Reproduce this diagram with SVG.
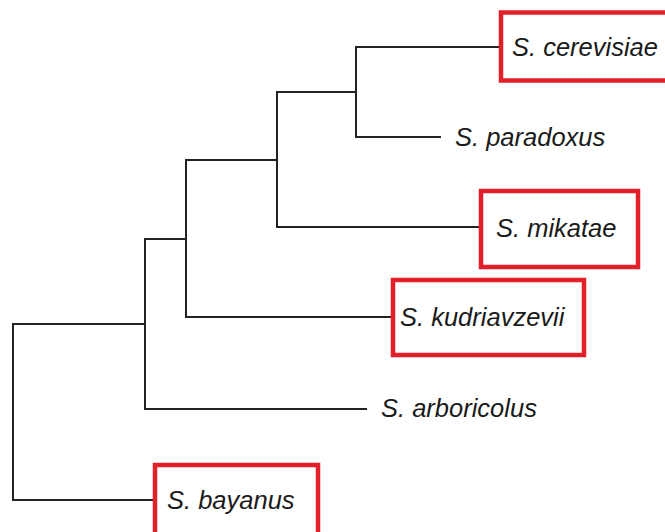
<svg xmlns="http://www.w3.org/2000/svg" width="665" height="532" viewBox="0 0 665 532">
<style>
.br{fill:none;stroke:#222;stroke-width:2;stroke-linecap:square;stroke-linejoin:miter}
.hl{fill:#fff;stroke:#e3202a;stroke-width:4.5}
.lb{font-family:"Liberation Sans",Arial,sans-serif;font-style:italic;font-size:25.5px;fill:#1a1a1a}
</style>
<rect width="665" height="532" fill="#fff"/>
<g id="connectors">
<path class="br" d="M153,500 H13 V324 H145"/>
<path class="br" d="M186,239 H145 V409 H366"/>
<path class="br" d="M277,160 H186 V317 H391"/>
<path class="br" d="M356,92 H277 V227 H479"/>
<path class="br" d="M499,47 H356 V137 H440"/>
</g>
<g id="cerevisiae"><rect class="hl" x="501" y="12.5" width="170" height="68"/><text class="lb" x="512" y="56">S. cerevisiae</text></g>
<g id="paradoxus"><text class="lb" x="455" y="146">S. paradoxus</text></g>
<g id="mikatae"><rect class="hl" x="481" y="191" width="157" height="76"/><text class="lb" x="496" y="237">S. mikatae</text></g>
<g id="kudriavzevii"><rect class="hl" x="393" y="280" width="191" height="75"/><text class="lb" x="400" y="326">S. kudriavzevii</text></g>
<g id="arboricolus"><text class="lb" x="381" y="417">S. arboricolus</text></g>
<g id="bayanus"><rect class="hl" x="155" y="465" width="163" height="80"/><text class="lb" x="167" y="509">S. bayanus</text></g>
</svg>
